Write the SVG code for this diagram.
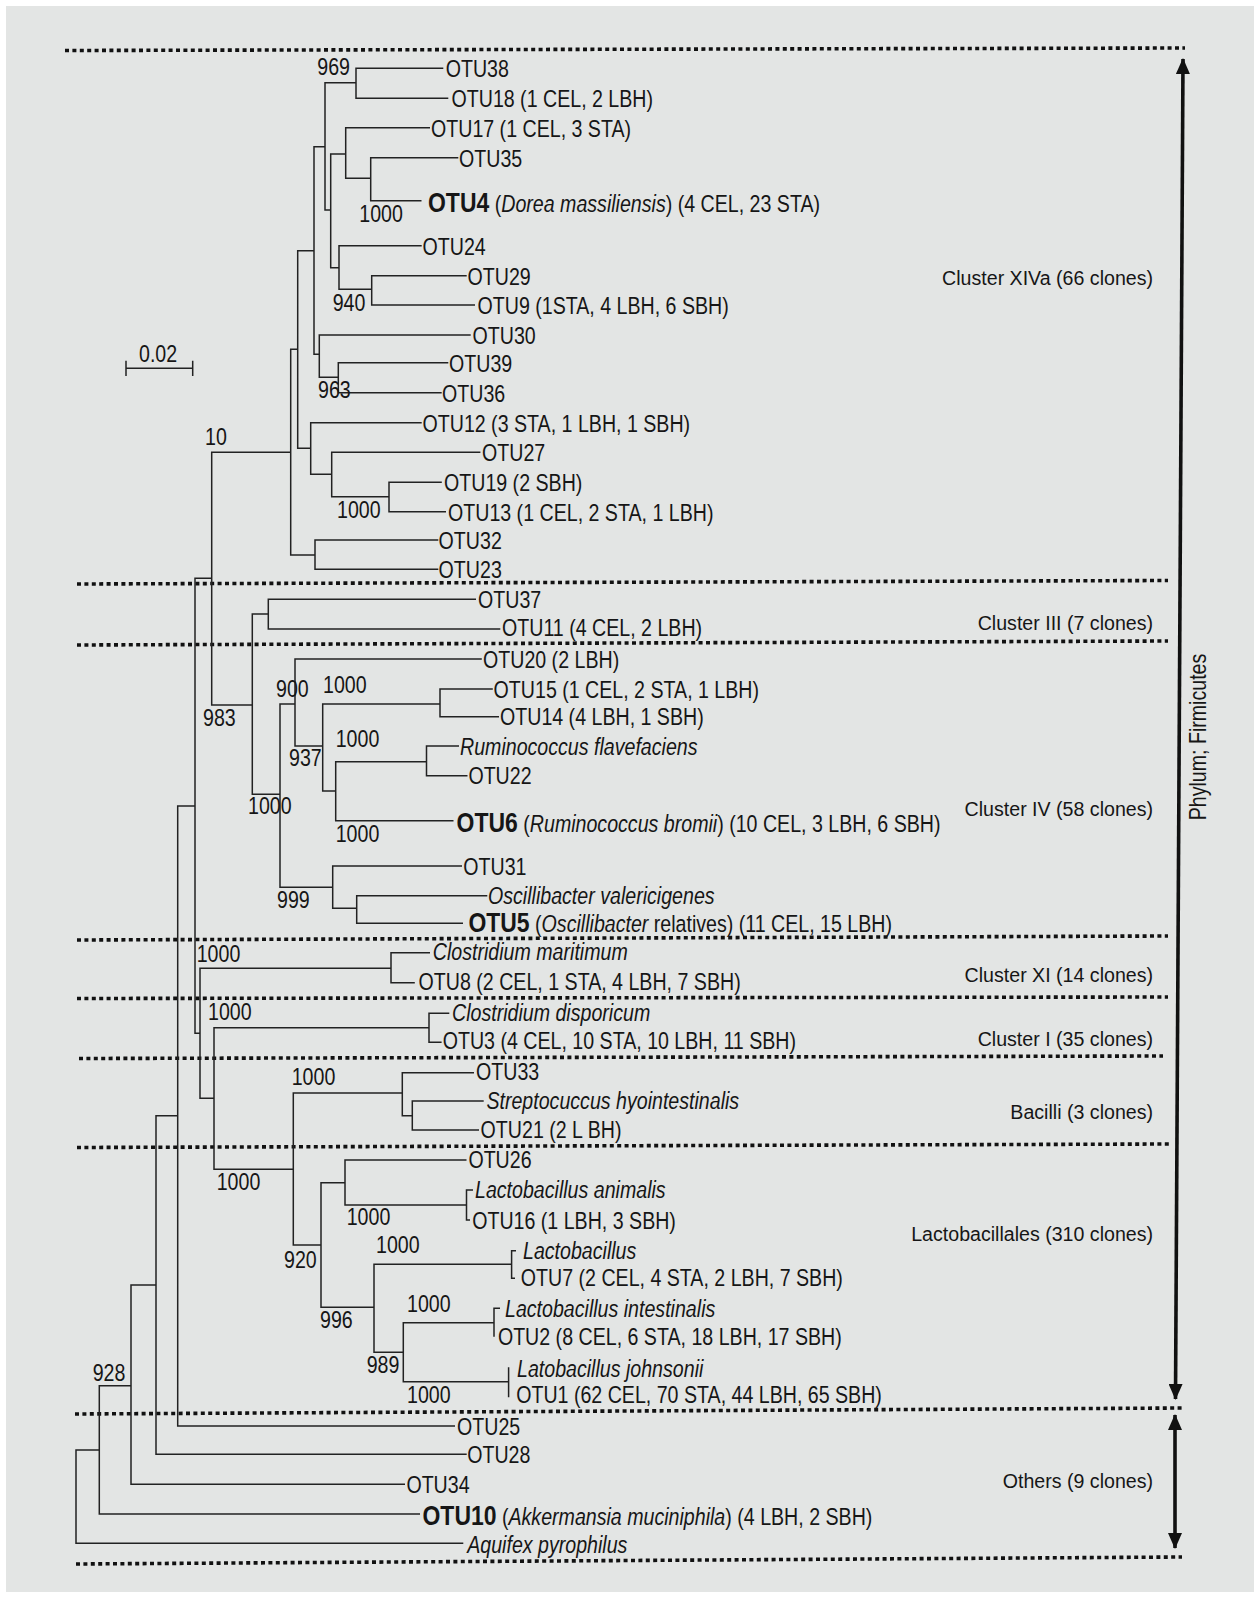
<svg xmlns="http://www.w3.org/2000/svg" width="1260" height="1598" viewBox="0 0 1260 1598">
<style>
.t{font-family:"Liberation Sans",Arial,sans-serif;font-size:23.5px;fill:#161616}
.b{font-weight:bold;font-size:27.5px}
.i{font-style:italic}
.r{font-family:"Liberation Sans",Arial,sans-serif;font-size:19.6px;fill:#161616;text-anchor:end}
.tree{fill:none;stroke:#222;stroke-width:1.5}
.dot{fill:none;stroke:#111;stroke-width:3.6;stroke-dasharray:4 3.4}
.arr{fill:none;stroke:#111;stroke-width:3.6}
</style>
<defs>
<marker id="ah" viewBox="0 0 16 14" refX="15" refY="7" markerWidth="16" markerHeight="14" markerUnits="userSpaceOnUse" orient="auto-start-reverse">
<path d="M0,0L16,7L0,14z" fill="#111"/>
</marker>
</defs>
<rect x="0" y="0" width="1260" height="1598" fill="#ffffff"/>
<rect x="6" y="6" width="1248" height="1586" fill="#e3e5e4"/>

<g id="separators">
<path class="dot" d="M65,50.5L1185,48"/>
<path class="dot" d="M77,584L1168,580.5"/>
<path class="dot" d="M77,645L1168,641"/>
<path class="dot" d="M77,940L1168,936"/>
<path class="dot" d="M77,998.5L1168,997"/>
<path class="dot" d="M79,1058.5L1163,1056"/>
<path class="dot" d="M77,1147.5L1169,1144"/>
<path class="dot" d="M75,1414L1182,1408"/>
<path class="dot" d="M76,1564L1182,1557"/>
</g>

<g id="connectors">
<path class="tree" d="M99.3,1450H76V1543.3H463.3
M131,1385.7H99.3V1514H420
M156,1285H131V1484.3H405
M177.7,1115.7H156V1454.3H466.7
M195,806H177.7V1426H455
M211.7,578.3H195V1033.3H200
M290.7,452.3H211.7V705H252.3
M297.7,349.3H290.7V555H315
M314,250.7H297.7V448.3H310.7
M325,146.7H314V354.3H319.3
M356,82.7H325V210H330.7
M443.3,68.3H356V98.3H448.3
M345.7,154H330.7V267.7H339
M430,127.7H345.7V178.3H370.7
M458.3,157.7H370.7V200.7H421.5
M421.7,245.7H339V289.3H371.7
M466.7,275.7H371.7V305H475
M470.7,335H319.3V377.3H338.3
M448.3,362.7H338.3V392.7H441.7
M421.7,422.7H310.7V474.3H331.7
M480.4,452.3H331.7V496.7H389
M441.8,482.3H389V511.7H446
M438.3,540H315V569.3H438.3
M268.3,614H252.3V794.3H280
M476,599.3H268.3V629H500.3
M295,704H280V887.3H332.7
M481.8,659H295V746H322.7
M440,704H322.7V791H335.7
M492.8,689H440V716.7H499
M426.5,761.7H335.7V820.7H453.5
M459,746H426.5V775.7H467.5
M462,866H332.7V908.3H356.7
M487.3,895.7H356.7V923.3H463
M391,968.3H200V1098.3H214
M430,952.7H391V982.7H414.8
M429,1027.7H214V1169.3H293.3
M449.3,1013.3H429V1042.3H441.6
M402.3,1093H293.3V1245H321
M474,1072.7H402.3V1115.7H412.3
M483.7,1101H412.3V1130H479
M345,1182.7H321V1307.3H374
M466.5,1160H345V1205H466.5
M473,1190H466.5V1220H470
M511.6,1264.3H374V1352.3H403.3
M516,1250.7H511.6V1278.3H515
M494,1322.7H403.3V1381.7H508.6
M500,1308.3H494V1336.7
M508.6,1367.3V1397.3"/>
<path class="tree" d="M126,368.3H192.7M126,360.7V376M192.7,360.7V376"/>
<path class="arr" d="M1183,59L1175.5,1399" marker-start="url(#ah)" marker-end="url(#ah)"/>
<path class="arr" d="M1175,1415L1175,1548" marker-start="url(#ah)" marker-end="url(#ah)"/>
</g>

<g id="scale-bar"><text class="t" transform="matrix(0.835 0 0 1 139 361.7)">0.02</text></g>

<g id="bootstrap">
<text class="t" transform="matrix(0.835 0 0 1 317.3 75)">969</text>
<text class="t" transform="matrix(0.835 0 0 1 359.3 221.7)">1000</text>
<text class="t" transform="matrix(0.835 0 0 1 332.7 310.7)">940</text>
<text class="t" transform="matrix(0.835 0 0 1 318 398.3)">963</text>
<text class="t" transform="matrix(0.835 0 0 1 205 445)">10</text>
<text class="t" transform="matrix(0.835 0 0 1 337 518.3)">1000</text>
<text class="t" transform="matrix(0.835 0 0 1 276 697.3)">900</text>
<text class="t" transform="matrix(0.835 0 0 1 323 693.3)">1000</text>
<text class="t" transform="matrix(0.835 0 0 1 203 726)">983</text>
<text class="t" transform="matrix(0.835 0 0 1 289 766)">937</text>
<text class="t" transform="matrix(0.835 0 0 1 335.7 747.3)">1000</text>
<text class="t" transform="matrix(0.835 0 0 1 248 814)">1000</text>
<text class="t" transform="matrix(0.835 0 0 1 335.7 842.3)">1000</text>
<text class="t" transform="matrix(0.835 0 0 1 277 908.3)">999</text>
<text class="t" transform="matrix(0.835 0 0 1 196.7 961.7)">1000</text>
<text class="t" transform="matrix(0.835 0 0 1 208 1020)">1000</text>
<text class="t" transform="matrix(0.835 0 0 1 291.7 1085)">1000</text>
<text class="t" transform="matrix(0.835 0 0 1 216.7 1190)">1000</text>
<text class="t" transform="matrix(0.835 0 0 1 346.7 1225)">1000</text>
<text class="t" transform="matrix(0.835 0 0 1 376 1253.3)">1000</text>
<text class="t" transform="matrix(0.835 0 0 1 284 1268.3)">920</text>
<text class="t" transform="matrix(0.835 0 0 1 407 1311.7)">1000</text>
<text class="t" transform="matrix(0.835 0 0 1 320 1328.3)">996</text>
<text class="t" transform="matrix(0.835 0 0 1 366.7 1373.3)">989</text>
<text class="t" transform="matrix(0.835 0 0 1 407 1403.3)">1000</text>
<text class="t" transform="matrix(0.835 0 0 1 92.7 1380.7)">928</text>
</g>

<g id="leaf-OTU38"><text class="t" transform="matrix(0.835 0 0 1 445.7 77)">OTU38</text></g>
<g id="leaf-OTU18"><text class="t" transform="matrix(0.835 0 0 1 451.5 107)">OTU18 (1 CEL, 2 LBH)</text></g>
<g id="leaf-OTU17"><text class="t" transform="matrix(0.835 0 0 1 431 136.5)">OTU17 (1 CEL, 3 STA)</text></g>
<g id="leaf-OTU35"><text class="t" transform="matrix(0.835 0 0 1 459 166.5)">OTU35</text></g>
<g id="leaf-OTU4"><text class="t" transform="matrix(0.835 0 0 1 428 211.5)"><tspan class="b">OTU4</tspan> (<tspan class="i">Dorea massiliensis</tspan>) (4 CEL, 23 STA)</text></g>
<g id="leaf-OTU24"><text class="t" transform="matrix(0.835 0 0 1 422.5 254.5)">OTU24</text></g>
<g id="leaf-OTU29"><text class="t" transform="matrix(0.835 0 0 1 467.5 284.5)">OTU29</text></g>
<g id="leaf-OTU9"><text class="t" transform="matrix(0.835 0 0 1 477.5 313.5)">OTU9 (1STA, 4 LBH, 6 SBH)</text></g>
<g id="leaf-OTU30"><text class="t" transform="matrix(0.835 0 0 1 472.5 343.5)">OTU30</text></g>
<g id="leaf-OTU39"><text class="t" transform="matrix(0.835 0 0 1 449 371.5)">OTU39</text></g>
<g id="leaf-OTU36"><text class="t" transform="matrix(0.835 0 0 1 442 401.5)">OTU36</text></g>
<g id="leaf-OTU12"><text class="t" transform="matrix(0.835 0 0 1 422.5 431.5)">OTU12 (3 STA, 1 LBH, 1 SBH)</text></g>
<g id="leaf-OTU27"><text class="t" transform="matrix(0.835 0 0 1 482 461)">OTU27</text></g>
<g id="leaf-OTU19"><text class="t" transform="matrix(0.835 0 0 1 444 491)">OTU19 (2 SBH)</text></g>
<g id="leaf-OTU13"><text class="t" transform="matrix(0.835 0 0 1 448 520.5)">OTU13 (1 CEL, 2 STA, 1 LBH)</text></g>
<g id="leaf-OTU32"><text class="t" transform="matrix(0.835 0 0 1 438.6 549)">OTU32</text></g>
<g id="leaf-OTU23"><text class="t" transform="matrix(0.835 0 0 1 438.6 578)">OTU23</text></g>
<g id="leaf-OTU37"><text class="t" transform="matrix(0.835 0 0 1 478 608)">OTU37</text></g>
<g id="leaf-OTU11"><text class="t" transform="matrix(0.835 0 0 1 502 636)">OTU11 (4 CEL, 2 LBH)</text></g>
<g id="leaf-OTU20"><text class="t" transform="matrix(0.835 0 0 1 483 667.5)">OTU20 (2 LBH)</text></g>
<g id="leaf-OTU15"><text class="t" transform="matrix(0.835 0 0 1 493.6 697.5)">OTU15 (1 CEL, 2 STA, 1 LBH)</text></g>
<g id="leaf-OTU14"><text class="t" transform="matrix(0.835 0 0 1 500 725)">OTU14 (4 LBH, 1 SBH)</text></g>
<g id="leaf-Rflav"><text class="t i" transform="matrix(0.835 0 0 1 460 754.5)">Ruminococcus flavefaciens</text></g>
<g id="leaf-OTU22"><text class="t" transform="matrix(0.835 0 0 1 468.4 784)">OTU22</text></g>
<g id="leaf-OTU6"><text class="t" transform="matrix(0.835 0 0 1 456.6 831.5)"><tspan class="b">OTU6</tspan> (<tspan class="i">Ruminococcus bromii</tspan>) (10 CEL, 3 LBH, 6 SBH)</text></g>
<g id="leaf-OTU31"><text class="t" transform="matrix(0.835 0 0 1 463.3 874.5)">OTU31</text></g>
<g id="leaf-Oval"><text class="t i" transform="matrix(0.835 0 0 1 488 903.5)">Oscillibacter valericigenes</text></g>
<g id="leaf-OTU5"><text class="t" transform="matrix(0.835 0 0 1 468.4 931.5)"><tspan class="b">OTU5</tspan> (<tspan class="i">Oscillibacter</tspan> relatives) (11 CEL, 15 LBH)</text></g>
<g id="leaf-Cmar"><text class="t i" transform="matrix(0.835 0 0 1 432.8 960)">Clostridium maritimum</text></g>
<g id="leaf-OTU8"><text class="t" transform="matrix(0.835 0 0 1 418.6 989.5)">OTU8 (2 CEL, 1 STA, 4 LBH, 7 SBH)</text></g>
<g id="leaf-Cdis"><text class="t i" transform="matrix(0.835 0 0 1 452 1020.5)">Clostridium disporicum</text></g>
<g id="leaf-OTU3"><text class="t" transform="matrix(0.835 0 0 1 442.7 1049)">OTU3 (4 CEL, 10 STA, 10 LBH, 11 SBH)</text></g>
<g id="leaf-OTU33"><text class="t" transform="matrix(0.835 0 0 1 476 1080)">OTU33</text></g>
<g id="leaf-Shyo"><text class="t i" transform="matrix(0.835 0 0 1 486.4 1108.5)">Streptocuccus hyointestinalis</text></g>
<g id="leaf-OTU21"><text class="t" transform="matrix(0.835 0 0 1 480.6 1137.5)">OTU21 (2 L BH)</text></g>
<g id="leaf-OTU26"><text class="t" transform="matrix(0.835 0 0 1 468.4 1167.5)">OTU26</text></g>
<g id="leaf-Lani"><text class="t i" transform="matrix(0.835 0 0 1 475 1198)">Lactobacillus animalis</text></g>
<g id="leaf-OTU16"><text class="t" transform="matrix(0.835 0 0 1 472.2 1228.5)">OTU16 (1 LBH, 3 SBH)</text></g>
<g id="leaf-Lact"><text class="t i" transform="matrix(0.835 0 0 1 523 1258.5)">Lactobacillus</text></g>
<g id="leaf-OTU7"><text class="t" transform="matrix(0.835 0 0 1 520.8 1285.5)">OTU7 (2 CEL, 4 STA, 2 LBH, 7 SBH)</text></g>
<g id="leaf-Lint"><text class="t i" transform="matrix(0.835 0 0 1 505 1316.5)">Lactobacillus intestinalis</text></g>
<g id="leaf-OTU2"><text class="t" transform="matrix(0.835 0 0 1 497.9 1344.5)">OTU2 (8 CEL, 6 STA, 18 LBH, 17 SBH)</text></g>
<g id="leaf-Ljoh"><text class="t i" transform="matrix(0.835 0 0 1 517 1376.5)">Latobacillus johnsonii</text></g>
<g id="leaf-OTU1"><text class="t" transform="matrix(0.835 0 0 1 516.2 1402.5)">OTU1 (62 CEL, 70 STA, 44 LBH, 65 SBH)</text></g>
<g id="leaf-OTU25"><text class="t" transform="matrix(0.835 0 0 1 457 1434.5)">OTU25</text></g>
<g id="leaf-OTU28"><text class="t" transform="matrix(0.835 0 0 1 467.2 1463)">OTU28</text></g>
<g id="leaf-OTU34"><text class="t" transform="matrix(0.835 0 0 1 406.4 1493)">OTU34</text></g>
<g id="leaf-OTU10"><text class="t" transform="matrix(0.835 0 0 1 422.5 1525)"><tspan class="b">OTU10</tspan> (<tspan class="i">Akkermansia muciniphila</tspan>) (4 LBH, 2 SBH)</text></g>
<g id="leaf-Aquifex"><text class="t i" transform="matrix(0.835 0 0 1 467.2 1552.5)">Aquifex pyrophilus</text></g>

<g id="group-labels">
<text class="r" x="1153" y="285">Cluster XIVa (66 clones)</text>
<text class="r" x="1153" y="630">Cluster III (7 clones)</text>
<text class="r" x="1153" y="816">Cluster IV (58 clones)</text>
<text class="r" x="1153" y="981.5">Cluster XI (14 clones)</text>
<text class="r" x="1153" y="1046">Cluster I (35 clones)</text>
<text class="r" x="1153" y="1118.5">Bacilli (3 clones)</text>
<text class="r" x="1153" y="1240.5">Lactobacillales (310 clones)</text>
<text class="r" x="1153" y="1487.5">Others (9 clones)</text>
</g>
<g id="phylum-label"><text class="t" text-anchor="middle" transform="matrix(0 -0.835 1 0 1206 737)">Phylum; Firmicutes</text></g>
</svg>
